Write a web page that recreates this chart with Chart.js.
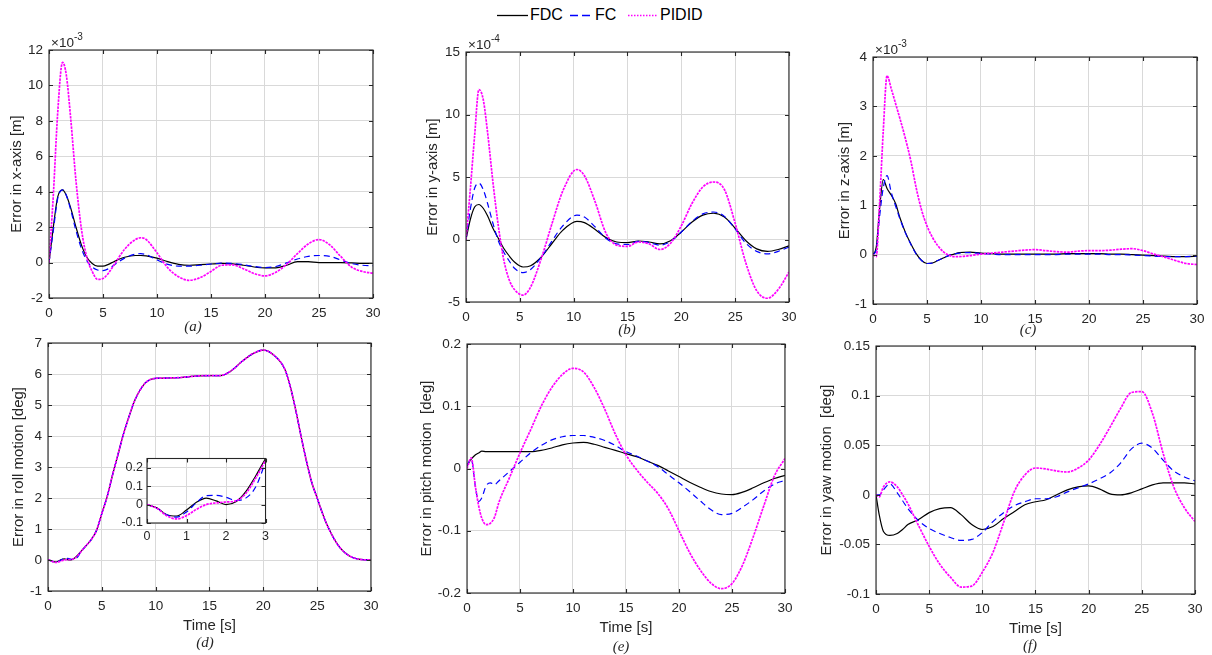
<!DOCTYPE html>
<html>
<head>
<meta charset="utf-8">
<script src="https://cdn.jsdelivr.net/npm/chart.js@4.4.1/dist/chart.umd.min.js"></script>
<style>
  body { margin: 0; background: #fff; width: 1212px; height: 655px; position: relative; overflow: hidden;
         font-family: "Liberation Sans", Arial, sans-serif; }
  canvas { position: absolute; }
  .lg { position: absolute; top: 6px; font-size: 16px; line-height: 18px; color: #000; white-space: nowrap; }
  .lg svg { position: absolute; top: 0; }
</style>
</head>
<body>
<div id="legend"></div>
<canvas id="pa"></canvas><canvas id="pb"></canvas><canvas id="pc"></canvas>
<canvas id="pd"></canvas><canvas id="pe"></canvas><canvas id="pf"></canvas>
<canvas id="pin"></canvas>
<script>
// time samples (s) and errors; panels a-c are in units of the axis exponent
const tA = [0,0.4,0.8,1.25,1.6,2,2.5,3,3.5,4,4.5,5,5.5,6,7,8,8.5,9,10,11,12,13,14,15,16,17,18,19,20,21,22,23,24,25,26,27,28,29,30];
const xFDC = [0,2.0,3.7,4.1,3.8,3.1,2.0,1.0,0.3,-0.05,-0.2,-0.2,-0.1,0.05,0.3,0.4,0.4,0.38,0.25,0.05,-0.1,-0.15,-0.12,-0.08,-0.05,-0.07,-0.15,-0.25,-0.3,-0.3,-0.15,0.05,0.05,0.0,0.0,0.0,-0.02,-0.05,-0.05];
const xFC = [0,1.8,3.6,4.1,3.8,3.0,1.8,0.8,0.1,-0.25,-0.42,-0.45,-0.35,-0.15,0.25,0.48,0.5,0.45,0.15,-0.1,-0.2,-0.2,-0.15,-0.08,-0.03,-0.05,-0.12,-0.22,-0.28,-0.22,-0.02,0.2,0.35,0.4,0.35,0.15,-0.05,-0.15,-0.18];
const xPID = [0,3.8,8.4,11.3,10.6,8.2,4.6,1.9,0.3,-0.5,-0.95,-0.9,-0.6,-0.15,0.75,1.3,1.4,1.3,0.55,-0.3,-0.8,-1.0,-0.85,-0.5,-0.15,-0.13,-0.35,-0.62,-0.75,-0.55,-0.1,0.5,1.05,1.3,1.0,0.35,-0.25,-0.5,-0.6];

const tB = [0,0.4,0.8,1.2,1.6,2,2.5,3,3.5,4,4.5,5.3,6,7,8,9,10.3,11,12,13,14,15,16,17,18,19,20,21,22,23,24,25,26,27,28,29,30];
const yFDC = [0,1.6,2.6,2.8,2.5,1.9,0.9,0.1,-0.7,-1.3,-1.8,-2.2,-2.1,-1.4,-0.3,0.75,1.45,1.35,0.8,0.15,-0.2,-0.25,-0.12,-0.2,-0.35,-0.1,0.6,1.4,1.95,2.1,1.8,0.9,-0.1,-0.75,-0.95,-0.8,-0.5];
const yFC = [0,2.4,4.1,4.5,4.0,2.9,1.3,-0.1,-1.0,-1.7,-2.3,-2.65,-2.4,-1.4,-0.1,1.1,1.95,1.8,1.0,0.1,-0.35,-0.4,-0.15,-0.25,-0.45,-0.15,0.6,1.45,2.05,2.2,1.85,0.85,-0.3,-0.95,-1.15,-0.95,-0.6];
const yPID = [0,4.0,8.3,12.0,11.2,8.6,4.6,1.1,-1.6,-3.2,-4.0,-4.45,-3.8,-1.5,1.3,3.9,5.6,5.1,3.0,0.5,-0.45,-0.55,-0.2,-0.35,-0.8,-0.3,1.1,2.9,4.2,4.6,4.0,1.3,-1.9,-4.1,-4.7,-4.0,-2.6];

const tC = [0,0.3,0.6,0.95,1.3,1.7,2.1,2.5,3,3.5,4,4.5,5,5.5,6,6.5,7,7.5,8,9,10,11,12,13,14,15,16,17,18,19,20,21,22,23,24,25,26,27,28,29,30];
const zFDC = [0,0.15,0.9,1.52,1.34,1.2,1.03,0.74,0.45,0.22,0.02,-0.12,-0.18,-0.17,-0.12,-0.07,-0.02,0.01,0.04,0.05,0.03,0.02,0.01,0.01,0.01,0.01,0.01,0.01,0.02,0.02,0.02,0.02,0.01,0.01,0.0,-0.01,-0.02,-0.03,-0.04,-0.04,-0.03];
const zFC = [0,0.1,0.75,1.35,1.6,1.25,0.98,0.72,0.44,0.21,0.01,-0.12,-0.18,-0.17,-0.12,-0.07,-0.02,0.01,0.03,0.04,0.02,0.01,0.0,0.0,0.0,0.0,0.0,0.0,0.01,0.01,0.01,0.01,0.0,0.0,-0.01,-0.02,-0.03,-0.04,-0.04,-0.04,-0.03];
const zPID = [0,-0.04,1.0,2.5,3.62,3.35,3.05,2.75,2.35,1.9,1.35,0.9,0.58,0.35,0.18,0.06,-0.01,-0.04,-0.04,-0.02,0.01,0.03,0.05,0.07,0.09,0.1,0.08,0.06,0.05,0.07,0.08,0.08,0.09,0.11,0.12,0.08,0.01,-0.05,-0.12,-0.18,-0.2];

// roll: first 3 s as in the zoomed inset, then the common part
const tInset = [0,0.25,0.5,0.75,1,1.25,1.5,1.75,2,2.25,2.5,2.75,3];
const rollInFDC = [0,-0.018,-0.055,-0.062,-0.03,0.012,0.035,0.02,0.0,0.015,0.07,0.155,0.25];
const rollInFC = [0,-0.02,-0.055,-0.068,-0.04,0.01,0.048,0.05,0.04,0.022,0.035,0.095,0.23];
const rollInPID = [0,-0.02,-0.06,-0.078,-0.06,-0.026,0.0,0.009,0.014,0.02,0.06,0.143,0.24];
const tRollLate = [3.5,4,4.5,5,5.5,6,6.5,7,7.5,8,8.5,9,9.5,10,11,12,13,14,15,16,17,18,19,20,21,22,22.5,23,23.5,24,24.5,25,25.5,26,27,28,29,30];
const rollLate = [0.45,0.65,0.95,1.5,2.05,2.75,3.4,4.05,4.6,5.1,5.45,5.7,5.82,5.86,5.87,5.88,5.91,5.94,5.95,5.95,6.1,6.4,6.65,6.77,6.6,6.15,5.6,4.85,4.0,3.2,2.5,2.0,1.5,1.07,0.45,0.13,0.02,0.0];

const tE = [0,0.4,0.8,1.1,1.4,1.8,2.2,2.6,3,4,5,6,7,8,9,10,11,12,13,14,15,16,17,18,19,20,21,22,23,24,25,26,27,28,29,30];
const pFDC = [0.005,0.015,0.022,0.025,0.028,0.027,0.027,0.027,0.027,0.027,0.027,0.027,0.029,0.033,0.038,0.041,0.042,0.039,0.034,0.029,0.024,0.019,0.012,0.005,-0.004,-0.013,-0.022,-0.03,-0.037,-0.041,-0.042,-0.038,-0.031,-0.023,-0.016,-0.011];
const pFC = [0.005,0.015,-0.03,-0.053,-0.047,-0.028,-0.023,-0.026,-0.02,-0.005,0.01,0.025,0.037,0.046,0.051,0.053,0.053,0.05,0.045,0.037,0.027,0.02,0.012,0.003,-0.01,-0.023,-0.037,-0.052,-0.066,-0.074,-0.072,-0.062,-0.05,-0.036,-0.025,-0.019];
const pPID = [0,0.017,-0.03,-0.06,-0.08,-0.09,-0.088,-0.078,-0.055,-0.015,0.025,0.062,0.1,0.13,0.151,0.161,0.155,0.13,0.095,0.055,0.022,-0.002,-0.022,-0.04,-0.065,-0.1,-0.135,-0.163,-0.184,-0.193,-0.185,-0.155,-0.11,-0.06,-0.012,0.016];

const tF = [0,0.3,0.7,1.3,2,2.5,3,4,5,6,7,8,9,10,11,12,13,14,15,16,17,18,19,20,21,22,23,24,25,26,27,28,29,30];
const wFDC = [0,-0.02,-0.037,-0.041,-0.039,-0.035,-0.03,-0.025,-0.018,-0.014,-0.013,-0.02,-0.03,-0.035,-0.032,-0.024,-0.017,-0.01,-0.007,-0.005,0.0,0.005,0.008,0.009,0.006,0.001,0.0,0.002,0.006,0.01,0.012,0.012,0.012,0.011];
const wFC = [0,0.0,0.005,0.011,0.002,-0.006,-0.014,-0.026,-0.034,-0.039,-0.043,-0.046,-0.045,-0.038,-0.027,-0.018,-0.011,-0.007,-0.004,-0.004,-0.002,0.003,0.007,0.011,0.016,0.022,0.032,0.046,0.052,0.047,0.035,0.024,0.018,0.014];
const wPID = [0,-0.002,0.008,0.013,0.008,0.0,-0.009,-0.031,-0.052,-0.07,-0.083,-0.093,-0.092,-0.078,-0.058,-0.028,0.003,0.02,0.027,0.026,0.024,0.023,0.027,0.035,0.05,0.068,0.087,0.103,0.104,0.082,0.042,0.008,-0.013,-0.027];

const seriesNames = ['FDC', 'FC', 'PIDID'];

const ink = '#262626';
const lineStyles = [
  { borderColor: '#000000', borderWidth: 1.2, borderDash: [], order: 2 },
  { borderColor: '#0000ff', borderWidth: 1.2, borderDash: [6, 4], order: 1 },
  { borderColor: '#ff00ff', borderWidth: 1.7, borderDash: [2.5, 1], order: 0 }
];

Chart.defaults.font.family = '"Liberation Sans", Arial, sans-serif';
Chart.defaults.color = ink;

const fmt = v => String(Math.round(v * 1e6) / 1e6);

// box, inward ticks, exponent and sub-label
const framePlugin = {
  id: 'frame',
  beforeDraw(chart, args, o) {
    if (!o.fill) return;
    const a = chart.chartArea, ctx = chart.ctx;
    ctx.save(); ctx.fillStyle = '#fff';
    ctx.fillRect(a.left, a.top, a.width, a.height);
    ctx.restore();
  },
  afterDraw(chart, args, o) {
    const { ctx, chartArea: a, scales: { x, y } } = chart;
    ctx.save();
    ctx.strokeStyle = ink; ctx.lineWidth = 1.1;
    ctx.strokeRect(a.left, a.top, a.width, a.height);
    const len = 4;
    ctx.beginPath();
    x.ticks.forEach(t => {
      const px = Math.round(x.getPixelForValue(t.value)) + 0.5;
      ctx.moveTo(px, a.bottom); ctx.lineTo(px, a.bottom - len);
      ctx.moveTo(px, a.top); ctx.lineTo(px, a.top + len);
    });
    y.ticks.forEach(t => {
      const py = Math.round(y.getPixelForValue(t.value)) + 0.5;
      ctx.moveTo(a.left, py); ctx.lineTo(a.left + len, py);
      ctx.moveTo(a.right, py); ctx.lineTo(a.right - len, py);
    });
    ctx.stroke();
    ctx.fillStyle = ink;
    if (o.exp) {
      ctx.textAlign = 'left'; ctx.textBaseline = 'alphabetic';
      ctx.font = '13.5px "Liberation Sans", Arial, sans-serif';
      const x0 = a.left + 2, y0 = a.top - 3;
      ctx.fillText('\u00d710', x0, y0);
      const w = ctx.measureText('\u00d710').width;
      ctx.font = '10px "Liberation Sans", Arial, sans-serif';
      ctx.fillText(o.exp, x0 + w, y0 - 7);
    }
    if (o.sub) {
      ctx.textAlign = 'center'; ctx.textBaseline = 'middle';
      ctx.font = 'italic 15px "Liberation Serif", "Times New Roman", serif';
      ctx.fillText(o.sub, o.subX, o.subY);
    }
    ctx.restore();
  }
};

const panels = [
  { id: 'pa', left: 0, box: [49, 50, 375, 298], t: tA, s: [xFDC, xFC, xPID], yMin: -2, yMax: 12, yStep: 2,
    yTitle: 'Error in x-axis [m]', yTitleX: 17, exp: '-3', sub: '(a)', subX: 193, subY: 327 },
  { id: 'pb', left: 412, box: [466, 52, 791, 302], t: tB, s: [yFDC, yFC, yPID], yMin: -5, yMax: 15, yStep: 5,
    yTitle: 'Error in y-axis [m]', yTitleX: 433, exp: '-4', sub: '(b)', subX: 627, subY: 330 },
  { id: 'pc', left: 822, box: [873, 57, 1199, 304], t: tC, s: [zFDC, zFC, zPID], yMin: -1, yMax: 4, yStep: 1,
    yTitle: 'Error in z-axis [m]', yTitleX: 845, exp: '-3', sub: '(c)', subX: 1028, subY: 330 },
  { id: 'pd', left: 0, box: [48, 343, 373, 591], t: tInset.concat(tRollLate),
    s: [rollInFDC.concat(rollLate), rollInFC.concat(rollLate), rollInPID.concat(rollLate)], yMin: -1, yMax: 7, yStep: 1,
    yTitle: 'Error in roll motion [deg]', yTitleX: 19, xTitle: 'Time [s]', sub: '(d)', subX: 205, subY: 643 },
  { id: 'pe', left: 405, box: [467, 344, 787, 593], t: tE, s: [pFDC, pFC, pPID], yMin: -0.2, yMax: 0.2, yStep: 0.1,
    yTitle: 'Error in pitch motion  [deg]', yTitleX: 427, xTitle: 'Time [s]', sub: '(e)', subX: 621, subY: 647 },
  { id: 'pf', left: 808, box: [876, 346, 1197, 594], t: tF, s: [wFDC, wFC, wPID], yMin: -0.1, yMax: 0.15, yStep: 0.05,
    yTitle: 'Error in yaw motion  [deg]', yTitleX: 827, xTitle: 'Time [s]', sub: '(f)', subX: 1030, subY: 646 },
  { id: 'pin', left: 108, box: [147, 455, 267, 523], t: tInset, s: [rollInFDC, rollInFC, rollInPID],
    yMin: -0.1, yMax: 0.25, yStep: 0.1, xMax: 3, xStep: 1, inset: true }
];

function makePanel(p) {
  const [L, T, R, B] = p.box;
  const topPad = p.inset ? 8 : 22;
  const rightPad = p.inset ? 8 : 13;
  const xH = p.inset ? 22 : (p.xTitle ? 46 : 26);
  const botPad = p.inset ? 0 : (p.xTitle ? 18 : 14);
  const yW = L - p.left;
  const cv = document.getElementById(p.id);
  cv.width = R - p.left + rightPad;
  cv.height = topPad + (B - T) + xH + botPad;
  cv.style.left = p.left + 'px';
  cv.style.top = (T - topPad) + 'px';
  const top = T - topPad;
  const tickSize = p.inset ? 12.5 : 13.5;
  const titleSize = 15;
  const half = titleSize * 1.2 / 2;

  const datasets = p.s.map((vals, i) => Object.assign({
    label: seriesNames[i],
    data: vals.map((v, k) => ({ x: p.t[k], y: v })),
    pointRadius: 0,
    fill: false,
    cubicInterpolationMode: 'monotone'
  }, lineStyles[i]));

  new Chart(cv, {
    type: 'line',
    data: { datasets },
    options: {
      responsive: false,
      animation: false,
      events: [],
      layout: { padding: { left: 0, top: topPad, right: rightPad, bottom: botPad } },
      plugins: {
        legend: { display: false },
        tooltip: { enabled: false },
        frame: { fill: !!p.inset, exp: p.exp, sub: p.sub, subX: p.subX - p.left, subY: p.subY - top }
      },
      scales: {
        x: {
          type: 'linear', min: 0, max: p.xMax || 30,
          afterFit(s) { s.height = xH; },
          ticks: { stepSize: p.xStep || 5, padding: p.inset ? 6 : 7.5, maxRotation: 0, autoSkip: false,
                   font: { size: tickSize }, color: ink, callback: fmt },
          grid: { color: '#d9d9d9', drawTicks: false, lineWidth: 1 },
          border: { display: false },
          title: { display: !!p.xTitle, text: p.xTitle, color: ink, font: { size: titleSize },
                   padding: { top: 0, bottom: xH - half - 34.5 } }
        },
        y: {
          type: 'linear', min: p.yMin, max: p.yMax,
          afterFit(s) { s.width = yW; },
          ticks: { stepSize: p.yStep, padding: p.inset ? 4 : 6, includeBounds: false,
                   font: { size: tickSize }, color: ink, callback: fmt },
          grid: { color: '#d9d9d9', drawTicks: false, lineWidth: 1 },
          border: { display: false },
          title: { display: !!p.yTitle, text: p.yTitle, color: ink, font: { size: titleSize },
                   padding: { top: p.yTitleX - p.left - half, bottom: 0 } }
        }
      }
    },
    plugins: [framePlugin]
  });
}

panels.forEach(makePanel);

// shared legend across the top
const legendItems = [
  { name: 'FDC', x: 497, w: 31, tx: 530, color: '#000000', dash: '', width: 1.3 },
  { name: 'FC', x: 570, w: 21, tx: 595, color: '#0000ff', dash: '8 4', width: 1.3 },
  { name: 'PIDID', x: 628, w: 30, tx: 660, color: '#ff00ff', dash: '1.5 1.5', width: 1.6 }
];
const lg = document.getElementById('legend');
legendItems.forEach(it => {
  const d = document.createElement('div');
  d.className = 'lg';
  d.style.left = it.x + 'px';
  d.innerHTML = '<svg width="' + it.w + '" height="18" style="left:0"><line x1="0" y1="9.5" x2="' + it.w +
    '" y2="9.5" stroke="' + it.color + '" stroke-width="' + it.width + '" stroke-dasharray="' + it.dash + '"/></svg>' +
    '<span style="position:absolute;left:' + (it.tx - it.x) + 'px">' + it.name + '</span>';
  lg.appendChild(d);
});
</script>
</body>
</html>
